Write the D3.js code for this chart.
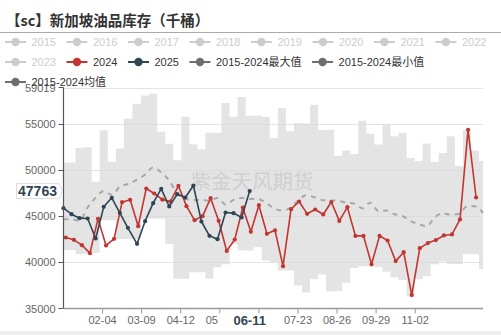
<!DOCTYPE html>
<html>
<head>
<meta charset="utf-8">
<script src="https://cdn.jsdelivr.net/npm/d3@7"></script>
<style>
  html, body { margin: 0; padding: 0; background: #fff; }
  svg { display: block; }
</style>
</head>
<body>
<svg id="chart" width="501" height="335"></svg>
<script>
// ---- data -------------------------------------------------------------
const titleText = "【sc】新加坡油品库存（千桶）";

const legendNames = ["2015", "2016", "2017", "2018", "2019", "2020", "2021", "2022",
  "2023", "2024", "2025", "2015-2024最大值", "2015-2024最小值", "2015-2024均值"];

// weekly points used by the seasonal band and the average
const weeks = ["01-01", "01-08", "01-15", "01-22", "01-29", "02-05", "02-12", "02-19", "02-26",
  "03-05", "03-12", "03-19", "03-26", "04-02", "04-09", "04-16", "04-23", "04-30", "05-07",
  "05-14", "05-21", "05-28", "06-04", "06-11", "06-18", "06-25", "07-02", "07-09", "07-16",
  "07-23", "07-30", "08-06", "08-13", "08-20", "08-27", "09-03", "09-10", "09-17", "09-24",
  "10-01", "10-08", "10-15", "10-22", "10-29", "11-05", "11-12", "11-19", "11-26", "12-03",
  "12-10", "12-17", "12-24", "12-31"];

const bandMax = [50880, 50880, 52450, 52530, 48780, 54360, 50940, 52390, 55630, 57250,
  58140, 58330, 54200, 52900, 51100, 55850, 52850, 52300, 54100, 54100,
  57330, 55840, 58000, 55950, 55950, 55800, 53530, 56770, 54260, 55150,
  55100, 57140, 54400, 54440, 51600, 52170, 51800, 55410, 54000, 52820,
  54980, 53720, 54070, 51370, 51020, 52930, 50910, 51910, 53720, 50480,
  54420, 52170, 51020];

const bandMin = [41370, 41370, 40900, 40950, 41050, 44600, 44600, 42560, 42560, 42560,
  44750, 44750, 44750, 42000, 38240, 38240, 38950, 38950, 38240, 39490,
  39800, 42020, 41300, 41300, 41650, 40220, 40030, 39140, 39140, 37500,
  36750, 38200, 38700, 36850, 36900, 37800, 39400, 39600, 39600, 39500,
  39000, 38400, 38100, 36300, 38200, 38500, 39800, 40100, 39850, 39850,
  40900, 40900, 39300];

const avgValues = [44700, 44700, 44550, 46000, 47050, 47780, 47340, 48240, 48530, 49000,
  49550, 50340, 49800, 48900, 47500, 46900, 46800, 46800, 46700, 47000,
  46300, 46800, 47000, 46900, 46900, 46500, 45900, 45650, 45900, 46700,
  47300, 47100, 46800, 46750, 46700, 46500, 46400, 45900, 46500, 45600,
  45650, 45250, 45050, 44500, 44150, 43950, 44900, 45350, 45200, 45300,
  46100, 46100, 45400];

const dates2024 = ["01-03", "01-10", "01-17", "01-24", "01-31", "02-07", "02-14", "02-21", "02-28",
  "03-06", "03-13", "03-20", "03-27", "04-03", "04-10", "04-17", "04-24", "05-01", "05-08",
  "05-15", "05-22", "05-29", "06-05", "06-12", "06-19", "06-26", "07-03", "07-10", "07-17",
  "07-24", "07-31", "08-07", "08-14", "08-21", "08-28", "09-04", "09-11", "09-18", "09-25",
  "10-02", "10-09", "10-16", "10-23", "10-30", "11-06", "11-13", "11-20", "11-27", "12-04",
  "12-11", "12-18", "12-25"];

const values2024 = [42717, 42463, 41884, 41014, 44746, 41848, 42572, 46557, 46811, 43949,
  48043, 47499, 46830, 46630, 48333, 46123, 44601, 45036, 46992, 44529,
  41250, 42500, 45975, 43330, 46230, 43120, 43500, 39600, 45800, 46630,
  45290, 45760, 45220, 46570, 44520, 46010, 42890, 42890, 39800, 42890,
  42390, 40150, 41120, 36460, 41560, 42110, 42440, 42940, 43050, 44680,
  54420, 47065];

const dates2025 = ["01-01", "01-08", "01-15", "01-22", "01-29", "02-05", "02-12", "02-19", "02-26",
  "03-05", "03-12", "03-19", "03-26", "04-02", "04-09", "04-16", "04-23", "04-30", "05-07",
  "05-14", "05-21", "05-28", "06-04", "06-11"];

const values2025 = [45905, 45253, 44818, 44782, 42608, 46050, 47028, 45398, 43768, 42029,
  44493, 46449, 48007, 46087, 47427, 47065, 48369, 44456, 42898, 42536,
  45434, 45362, 44891, 47763];

const yTicks = [35000, 40000, 45000, 50000, 55000, 59019];
const xTickLabels = ["02-04", "03-09", "04-12", "05-16", "06-19", "07-23", "08-26", "09-29", "11-02"];

const pointerDate = "06-11";
const pointerValue = 47763;

// ---- setup ------------------------------------------------------------
const svg = d3.select("#chart");
const FONT = "'Liberation Sans', 'Noto Sans CJK SC', Arial, sans-serif";
const C24 = "#c23531", C25 = "#2f4554", CGRAY = "#6e6e6e", COFF = "#cccccc";

// the category axis holds every calendar day (leap year so 02-29 exists)
const fmt = d3.timeFormat("%m-%d");
const days = d3.timeDay.range(new Date(2024, 0, 1), new Date(2025, 0, 1)).map(fmt);

const plot = { left: 63.5, right: 483, top: 87.5, bottom: 308.5 };
const x = d3.scalePoint().domain(days).range([plot.left, plot.right]);
const y = d3.scaleLinear().domain([35000, 59019]).range([plot.bottom, plot.top]);

// ---- title ------------------------------------------------------------
svg.append("text")
  .attr("x", 6).attr("y", 19)
  .attr("dominant-baseline", "central")
  .attr("font-family", "'Noto Sans CJK SC', sans-serif")
  .attr("font-weight", "bold")
  .attr("font-size", 14.5)
  .attr("fill", "#333")
  .text(titleText);

svg.append("line")
  .attr("x1", 0).attr("x2", 501).attr("y1", 32.5).attr("y2", 32.5)
  .attr("stroke", "#aaa").attr("stroke-width", 1);

// ---- grid -------------------------------------------------------------
svg.append("g").selectAll("line")
  .data(yTicks.filter(v => v > 35000))
  .join("line")
  .attr("x1", plot.left).attr("x2", plot.right)
  .attr("y1", d => Math.round(y(d)) + 0.5).attr("y2", d => Math.round(y(d)) + 0.5)
  .attr("stroke", "#e3e3e3");

// ---- seasonal range band ---------------------------------------------
const bandData = weeks.map((w, i) => ({ date: w, lo: bandMin[i], hi: bandMax[i] }));
svg.append("path")
  .datum(bandData)
  .attr("d", d3.area()
    .x(d => x(d.date))
    .y0(d => y(d.lo))
    .y1(d => y(d.hi))
    .curve(d3.curveStep))
  .attr("fill", "#d9d9d9")
  .attr("fill-opacity", 0.72);

// watermark
svg.append("text")
  .attr("x", 252).attr("y", 180)
  .attr("text-anchor", "middle")
  .attr("dominant-baseline", "central")
  .attr("font-family", "'Noto Sans CJK SC', sans-serif")
  .attr("font-size", 20.5)
  .attr("fill", "#bdbdbd")
  .attr("fill-opacity", 0.55)
  .text("紫金天风期货");

// ---- average line -----------------------------------------------------
const avgData = weeks.map((w, i) => ({ date: w, v: avgValues[i] }));
svg.append("path")
  .datum(avgData)
  .attr("d", d3.line().x(d => x(d.date)).y(d => y(d.v)).curve(d3.curveMonotoneX))
  .attr("fill", "none")
  .attr("stroke", "#a8a8a8")
  .attr("stroke-width", 2)
  .attr("stroke-dasharray", "5,5");

// ---- yearly series ----------------------------------------------------
function drawSeries(dates, values, color) {
  const data = dates.map((d, i) => ({ date: d, v: values[i] }));
  const g = svg.append("g");
  g.append("path")
    .datum(data)
    .attr("d", d3.line().x(d => x(d.date)).y(d => y(d.v)))
    .attr("fill", "none")
    .attr("stroke", color)
    .attr("stroke-width", 1.6)
    .attr("stroke-linejoin", "round");
  g.selectAll("circle")
    .data(data)
    .join("circle")
    .attr("cx", d => x(d.date))
    .attr("cy", d => y(d.v))
    .attr("r", 2.1)
    .attr("fill", color);
}
drawSeries(dates2024, values2024, C24);
drawSeries(dates2025, values2025, C25);

// ---- axes -------------------------------------------------------------
const yAxis = svg.append("g");
yAxis.append("line")
  .attr("x1", plot.left).attr("x2", plot.left)
  .attr("y1", plot.top).attr("y2", plot.bottom)
  .attr("stroke", "#555").attr("stroke-width", 1.2);
yAxis.selectAll("line.tick")
  .data(yTicks)
  .join("line")
  .attr("class", "tick")
  .attr("x1", plot.left - 5).attr("x2", plot.left)
  .attr("y1", d => y(d)).attr("y2", d => y(d))
  .attr("stroke", "#555");
yAxis.selectAll("text")
  .data(yTicks)
  .join("text")
  .attr("x", plot.left - 8)
  .attr("y", d => y(d))
  .attr("text-anchor", "end")
  .attr("dominant-baseline", "central")
  .attr("font-family", FONT)
  .attr("font-size", 11)
  .attr("fill", "#666")
  .text(d => d);

// the pointer label below the axis hides what lies under it
const px = x(pointerDate);
const labelClip = svg.append("defs").append("clipPath").attr("id", "xlabel-clip");
labelClip.append("rect")
  .attr("x", 0).attr("y", 300).attr("width", px - 31).attr("height", 35);

const xAxis = svg.append("g");
xAxis.append("line")
  .attr("x1", plot.left).attr("x2", plot.right)
  .attr("y1", plot.bottom).attr("y2", plot.bottom)
  .attr("stroke", "#999").attr("stroke-width", 1.5);
xAxis.selectAll("line.tick")
  .data(xTickLabels)
  .join("line")
  .attr("class", "tick")
  .attr("x1", d => x(d)).attr("x2", d => x(d))
  .attr("y1", plot.bottom).attr("y2", plot.bottom + 5)
  .attr("stroke", "#999");
const labelsLeft = xTickLabels.filter(d => x(d) < px - 10);
const labelsRight = xTickLabels.filter(d => x(d) > px + 40);
xAxis.append("g")
  .attr("clip-path", "url(#xlabel-clip)")
  .selectAll("text")
  .data(labelsLeft)
  .join("text")
  .attr("x", d => x(d))
  .attr("y", 319.5)
  .attr("text-anchor", "middle")
  .attr("dominant-baseline", "central")
  .attr("font-family", FONT)
  .attr("font-size", 11)
  .attr("fill", "#666")
  .text(d => d);
xAxis.append("g")
  .selectAll("text")
  .data(labelsRight)
  .join("text")
  .attr("x", d => x(d))
  .attr("y", 319.5)
  .attr("text-anchor", "middle")
  .attr("dominant-baseline", "central")
  .attr("font-family", FONT)
  .attr("font-size", 11)
  .attr("fill", "#666")
  .text(d => d);

// ---- axis pointer labels ---------------------------------------------
const xLab = svg.append("g");
xLab.append("rect")
  .attr("x", px - 31).attr("y", 313.5)
  .attr("width", 62).attr("height", 16)
  .attr("fill", "#fff");
xLab.append("text")
  .attr("x", px).attr("y", 320)
  .attr("text-anchor", "middle")
  .attr("dominant-baseline", "central")
  .attr("font-family", FONT)
  .attr("font-weight", "bold")
  .attr("font-size", 13)
  .attr("fill", C25)
  .text(pointerDate);

const py = y(pointerValue);
const yLab = svg.append("g");
yLab.append("path")
  .attr("d", `M16.5,${py - 7.5} H59 L62.5,${py} L59,${py + 7.5} H16.5 Z`)
  .attr("fill", "#fff")
  .attr("stroke", "#ddd");
yLab.append("text")
  .attr("x", 37.5).attr("y", py)
  .attr("text-anchor", "middle")
  .attr("dominant-baseline", "central")
  .attr("font-family", FONT)
  .attr("font-weight", "bold")
  .attr("font-size", 14)
  .attr("fill", C25)
  .text(pointerValue);

// ---- legend -----------------------------------------------------------
const legendStyle = name => {
  if (name === "2024") return { c: C24, t: "#333" };
  if (name === "2025") return { c: C25, t: "#333" };
  if (name.startsWith("2015-2024")) return { c: CGRAY, t: "#333" };
  return { c: COFF, t: COFF };
};
const rowY = [42, 62, 82];
let lx = 5, row = 0;
const legend = svg.append("g");
legendNames.forEach(name => {
  const st = legendStyle(name);
  const g = legend.append("g");
  const t = g.append("text")
    .attr("dominant-baseline", "central")
    .attr("font-family", FONT)
    .attr("font-size", 11)
    .attr("fill", st.t)
    .text(name);
  const w = t.node().getComputedTextLength();
  if (lx + 26.5 + w > 495) { row += 1; lx = 5; }
  const cy = rowY[row];
  t.attr("x", lx + 26.5).attr("y", cy);
  g.append("line")
    .attr("x1", lx).attr("x2", lx + 21)
    .attr("y1", cy).attr("y2", cy)
    .attr("stroke", st.c).attr("stroke-width", 2);
  g.append("circle")
    .attr("cx", lx + 10.5).attr("cy", cy).attr("r", 4.2)
    .attr("fill", st.c);
  lx += 26.5 + w + 10.5;
});

// bottom strip
svg.append("rect")
  .attr("x", 0).attr("y", 331).attr("width", 501).attr("height", 4)
  .attr("fill", "#efefef");
</script>
</body>
</html>
